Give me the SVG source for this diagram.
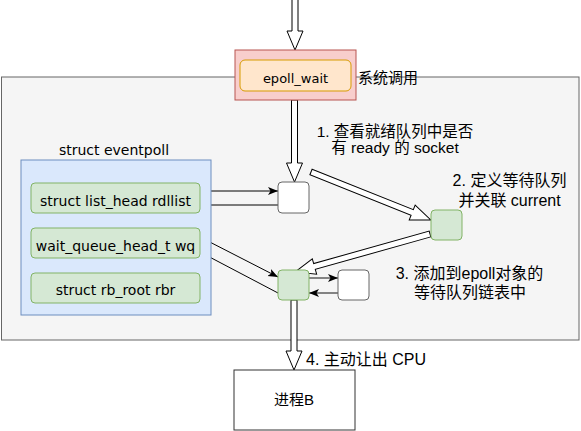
<svg xmlns="http://www.w3.org/2000/svg" width="581" height="431" viewBox="0 0 581 431">
<defs>
<style>
.lbl{font-family:"Liberation Sans","Noto Sans CJK SC",sans-serif;fill:#000}
.cm{font-family:"DejaVu Sans","Noto Sans CJK SC",sans-serif;fill:#000;font-size:14px;text-anchor:middle}
.green{fill:#d5e8d4;stroke:#82b366;stroke-width:1}
.white{fill:#fff;stroke:#666;stroke-width:1}
.hollow{fill:#fff;stroke:#000;stroke-width:1;stroke-linejoin:miter}
.thin{stroke:#000;stroke-width:1;fill:none}
.gray{stroke:#666;stroke-width:1.6;fill:none}
</style>
<marker id="ah" markerUnits="userSpaceOnUse" markerWidth="10" markerHeight="10" viewBox="0 0 10 10" refX="10" refY="5" orient="auto">
<path d="M0,1 L10,5 L0,9 L2.5,5 z" fill="#000"/>
</marker>
</defs>
<rect id="bg" x="1.5" y="77" width="577.5" height="263" fill="#f5f5f5" stroke="#666" stroke-width="1"/>
<g id="connectors">
<polygon class="hollow" points="292,-2 298,-2 298,31 303,31 295,50 287,31 292,31"/>
<polygon class="hollow" points="291.5,100 297.5,100 297.5,163 302.5,163 294.5,182 286.5,163 291.5,163"/>
<polygon class="hollow" points="291,300 297,300 297,351 302,351 294,370 286,351 291,351"/>
<g transform="translate(311,172) rotate(21.8)"><polygon class="hollow" points="0,-3 109,-3 109,-8 129,0 109,8 109,3 0,3"/></g>
<g transform="translate(430,234) rotate(164.3)"><polygon class="hollow" points="0,-3 120,-3 120,-8 140,0 120,8 120,3 0,3"/></g>
<line class="thin" x1="200" y1="191" x2="278" y2="191" marker-end="url(#ah)"/>
<line class="thin" x1="278" y1="205" x2="200" y2="205" marker-end="url(#ah)"/>
<line class="thin" x1="200" y1="237" x2="278" y2="277" marker-end="url(#ah)"/>
<line class="thin" x1="278" y1="293" x2="200" y2="252" marker-end="url(#ah)"/>
<line class="gray" x1="309" y1="278" x2="338" y2="278" marker-end="url(#ah)"/>
<line class="gray" x1="338" y1="293" x2="309" y2="293" marker-end="url(#ah)"/>
</g>
<g id="syscall">
<rect x="235" y="50" width="121" height="50" fill="#f8cecc" stroke="#b85450" stroke-width="1"/>
<rect x="240" y="60" width="111" height="31" rx="5" fill="#ffe6cc" stroke="#d79b00" stroke-width="1"/>
<text class="cm" x="295.5" y="82.5" style="font-size:13px">epoll_wait</text>
</g>
<text class="lbl" x="358" y="82.5" font-size="15">系统调用</text>
<g id="eventpoll">
<rect x="21" y="160" width="190" height="155" fill="#dae8fc" stroke="#6c8ebf" stroke-width="1"/>
<text class="cm" x="114" y="155">struct eventpoll</text>
</g>
<g id="rdllist">
<rect class="green" x="31" y="183" width="169" height="30" rx="4"/>
<text class="cm" x="115.5" y="206">struct list_head rdllist</text>
</g>
<g id="wq">
<rect class="green" x="31" y="228" width="169" height="30" rx="4"/>
<text class="cm" x="115.5" y="251">wait_queue_head_t wq</text>
</g>
<g id="rbr">
<rect class="green" x="31" y="273" width="169" height="30" rx="4"/>
<text class="cm" x="115.5" y="295">struct rb_root rbr</text>
</g>
<g id="check">
<rect class="white" x="278" y="182" width="31" height="31" rx="4"/>
</g>
<g id="define">
<rect class="green" x="431" y="210" width="31" height="30" rx="4"/>
</g>
<g id="add">
<rect class="green" x="278" y="270" width="31" height="30" rx="4"/>
</g>
<g id="waitq">
<rect class="white" x="338" y="270" width="31" height="30" rx="4"/>
</g>
<g id="procB">
<rect x="234" y="370" width="121" height="60" fill="#fff" stroke="#333" stroke-width="1"/>
<text class="lbl" x="294" y="404.5" font-size="15" text-anchor="middle">进程B</text>
</g>
<g id="labels">
<text class="lbl" font-size="15.5" text-anchor="middle"><tspan x="395" y="136.5">1. 查看就绪队列中是否</tspan><tspan x="395" y="152.5">有 ready 的 socket</tspan></text>
<text class="lbl" font-size="16" text-anchor="middle"><tspan x="509.5" y="185.6">2. 定义等待队列</tspan><tspan x="509.5" y="205.6">并关联 current</tspan></text>
<text class="lbl" font-size="16" text-anchor="middle"><tspan x="469.5" y="278.6">3. 添加到epoll对象的</tspan><tspan x="470" y="297.6">等待队列链表中</tspan></text>
<text class="lbl" font-size="16" x="306" y="364.6">4. 主动让出 CPU</text>
</g>
</svg>
